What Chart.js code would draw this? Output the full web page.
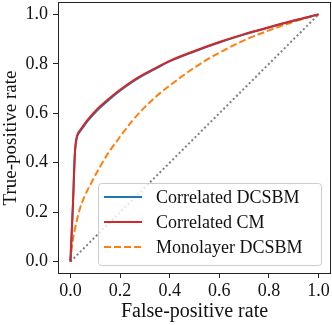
<!DOCTYPE html>
<html>
<head>
<meta charset="utf-8">
<script src="https://cdn.jsdelivr.net/npm/chart.js@4"></script>
<style>
html,body{margin:0;padding:0;background:#fff}
#wrap{width:332px;height:325px}
</style>
</head>
<body>
<div id="wrap"><canvas id="roc"></canvas></div>
<script>
let ticks = [0, 0.2, 0.4, 0.6, 0.8, 1.0]

let nomes = ["Correlated DCSBM", "Correlated CM", "Monolayer DCSBM"]

let xCorrelado = [0, 0.01, 0.018, 0.022, 0.028, 0.04, 0.052, 0.07, 0.1, 0.12, 0.15, 0.2, 0.25, 0.3, 0.35, 0.4, 0.5, 0.6, 0.7, 0.8, 0.9, 1.0]
let yDCSBM = [0, 0.22, 0.435, 0.478, 0.508, 0.528, 0.545, 0.569, 0.603, 0.623, 0.65, 0.691, 0.727, 0.757, 0.784, 0.81, 0.85, 0.886, 0.918, 0.947, 0.974, 1.0]
let yCM = [0, 0.23, 0.44, 0.485, 0.513, 0.533, 0.55, 0.574, 0.608, 0.628, 0.655, 0.695, 0.73, 0.76, 0.787, 0.812, 0.852, 0.888, 0.92, 0.948, 0.975, 1.0]

let xMono = [0, 0.005, 0.012, 0.02, 0.037, 0.06, 0.09, 0.12, 0.15, 0.2, 0.25, 0.3, 0.35, 0.4, 0.5, 0.6, 0.7, 0.8, 0.9, 1.0]
let yMono = [0, 0.05, 0.1, 0.14, 0.21, 0.27, 0.33, 0.385, 0.435, 0.505, 0.57, 0.625, 0.672, 0.712, 0.785, 0.845, 0.895, 0.935, 0.97, 1.0]

let xAcaso = [0, 1]
let yAcaso = [0, 1]

let fonte = "'Liberation Serif', 'DejaVu Serif', serif"

function pontos(xs, ys){
return xs.map((x, i) => ({x: x, y: ys[i]}))
}

let legendaDentro = {
id: "legendaDentro",
afterDraw(chart){
let ctx = chart.ctx
let x0 = 98, y0 = 183, w = 223, h = 82
ctx.save()
ctx.fillStyle = "rgba(255,255,255,0.8)"
ctx.strokeStyle = "#cccccc"
ctx.lineWidth = 1
ctx.beginPath()
ctx.roundRect(x0 + 0.5, y0 + 0.5, w, h, 3)
ctx.fill()
ctx.stroke()
ctx.font = "18px " + fonte
ctx.textBaseline = "middle"
for(let i = 0; i < 3; i++){
let ds = chart.data.datasets[i]
let y = y0 + 14 + i * 25
ctx.strokeStyle = ds.borderColor
ctx.lineWidth = ds.borderWidth
ctx.setLineDash(ds.borderDash || [])
ctx.beginPath()
ctx.moveTo(104, y)
ctx.lineTo(142, y)
ctx.stroke()
ctx.setLineDash([])
ctx.fillStyle = "#111"
ctx.fillText(nomes[i], 156, y + 1)
}
ctx.restore()
}
}

let moldura = {
id: "moldura",
afterDatasetsDraw(chart){
let a = chart.chartArea
let ctx = chart.ctx
ctx.save()
ctx.strokeStyle = "#222"
ctx.lineWidth = 1
ctx.strokeRect(a.left + 0.5, a.top + 0.5, a.right - a.left - 1, a.bottom - a.top - 1)
ctx.restore()
}
}

let grafico = new Chart(document.getElementById("roc"), {
type: "scatter",
data: {
datasets: [
{label: nomes[0], data: pontos(xCorrelado, yDCSBM), showLine: true, borderColor: "#1f77b4", borderWidth: 2, pointRadius: 0, cubicInterpolationMode: "monotone", order: 2},
{label: nomes[1], data: pontos(xCorrelado, yCM), showLine: true, borderColor: "#d62728", borderWidth: 2, pointRadius: 0, cubicInterpolationMode: "monotone", order: 1},
{label: nomes[2], data: pontos(xMono, yMono), showLine: true, borderColor: "#ff7f0e", borderWidth: 2, borderDash: [7, 3], pointRadius: 0, cubicInterpolationMode: "monotone", order: 3},
{label: "acaso", data: pontos(xAcaso, yAcaso), showLine: true, borderColor: "#808080", borderWidth: 2, borderDash: [2, 2.5], pointRadius: 0, order: 4}
]
},
options: {
responsive: true,
maintainAspectRatio: false,
animation: false,
layout: {padding: {top: 2, right: 1, left: 0, bottom: 0}},
plugins: {legend: {display: false}, tooltip: {enabled: false}},
scales: {
x: {
type: "linear", min: -0.05, max: 1.05,
afterBuildTicks: s => { s.ticks = ticks.map(v => ({value: v})) },
afterFit: s => { s.height = 51; s.paddingLeft = 0; s.paddingRight = 0 },
grid: {display: true, drawOnChartArea: false, tickLength: 4, color: "#222"},
border: {display: false},
ticks: {color: "#111", font: {family: fonte, size: 18}, padding: 2, maxRotation: 0, callback: v => v.toFixed(1)},
title: {display: true, text: "False-positive rate", color: "#111", font: {family: fonte, size: 20}, padding: {top: 0, bottom: 1}}
},
y: {
type: "linear", min: -0.05, max: 1.05,
afterBuildTicks: s => { s.ticks = ticks.map(v => ({value: v})) },
afterFit: s => { s.width = 58; s.paddingTop = 0; s.paddingBottom = 0 },
grid: {display: true, drawOnChartArea: false, tickLength: 5, color: "#222"},
border: {display: false},
ticks: {color: "#111", font: {family: fonte, size: 18}, padding: 5, callback: v => v.toFixed(1)},
title: {display: true, text: "True-positive rate", color: "#111", font: {family: fonte, size: 19}, padding: {top: 0, bottom: 0}}
}
}
},
plugins: [moldura, legendaDentro]
})
</script>
</body>
</html>
